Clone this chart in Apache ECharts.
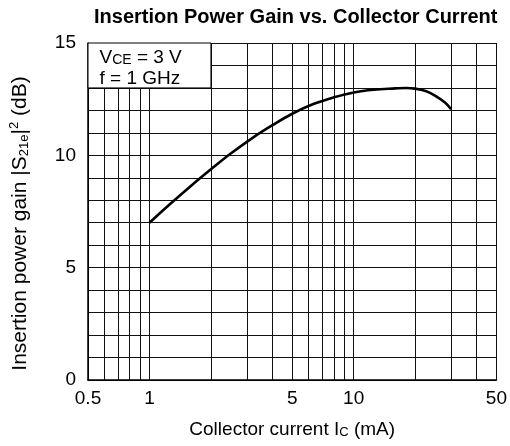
<!DOCTYPE html>
<html>
<head>
<meta charset="utf-8">
<script src="https://cdn.jsdelivr.net/npm/echarts@6/dist/echarts.min.js"></script>
<style>
  html, body { margin: 0; padding: 0; background: #fff; }
  #chart { width: 510px; height: 446px; }
</style>
</head>
<body>
<div id="chart"></div>
<script>
// collector current (mA) and insertion power gain (dB)
const currentMA = [1, 1.25, 1.6, 2, 2.5, 3.2, 4, 5, 6.3, 8, 10, 12.5, 16, 18, 20, 22.5, 25, 28, 30]
const gainDB = [7.0, 7.8, 8.65, 9.38, 10.08, 10.78, 11.34, 11.85, 12.27, 12.58, 12.8, 12.92, 12.98, 13.0, 12.97, 12.86, 12.66, 12.35, 12.05]

// log axis grid lines and labelled ticks
const xGridValues = [0.5, 0.6, 0.7, 0.8, 0.9, 1, 2, 3, 4, 5, 6, 7, 8, 9, 10, 20, 30, 40, 50]
const xTickLabels = [0.5, 1, 5, 10, 50]
const yTickLabels = [0, 5, 10, 15]

const FONT = 'Arial, "Liberation Sans", Helvetica, sans-serif'

const chart = echarts.init(document.getElementById('chart'))

chart.setOption({
  animation: false,
  title: {
    text: 'Insertion Power Gain vs. Collector Current',
    left: 89,
    top: 2,
    textStyle: { fontFamily: FONT, fontSize: 20, fontWeight: 'bold', color: '#000' }
  },
  grid: { left: 83, right: 12, top: 43, bottom: 65 },
  xAxis: {
    type: 'log',
    logBase: 10,
    min: 0.5,
    max: 50,
    name: '{a|Collector current I}{c|C}{a| (mA)}',
    nameLocation: 'middle',
    nameGap: 39,
    nameTextStyle: {
      rich: {
        a: { fontFamily: FONT, fontSize: 19, color: '#000', lineHeight: 22 },
        c: { fontFamily: FONT, fontSize: 13, color: '#000', lineHeight: 14, verticalAlign: 'bottom', padding: [0, 0, 2, 0] }
      }
    },
    axisLine: { show: true, lineStyle: { color: '#000', width: 1.5 } },
    axisTick: { show: false, customValues: xGridValues },
    axisLabel: {
      customValues: xTickLabels,
      margin: 9,
      fontFamily: FONT,
      fontSize: 19,
      color: '#000',
      formatter: v => String(v)
    },
    splitLine: { show: true, lineStyle: { color: '#111', width: 1 } }
  },
  yAxis: {
    type: 'value',
    min: 0,
    max: 15,
    interval: 1,
    name: '{a|Insertion power gain |S}{s|21e}{a||}{p|2}{a| (dB)}',
    nameLocation: 'middle',
    nameGap: 55,
    nameTextStyle: {
      padding: [0, 24, 0, 0],
      rich: {
        a: { fontFamily: FONT, fontSize: 21, color: '#000', lineHeight: 25 },
        s: { fontFamily: FONT, fontSize: 13, color: '#000', lineHeight: 14, verticalAlign: 'bottom', padding: [0, 0, 2, 0] },
        p: { fontFamily: FONT, fontSize: 13, color: '#000', lineHeight: 14, verticalAlign: 'top' }
      }
    },
    axisLine: { show: true, lineStyle: { color: '#000', width: 1.5 } },
    axisTick: { show: false },
    axisLabel: {
      margin: 12,
      fontFamily: FONT,
      fontSize: 19,
      color: '#000',
      formatter: v => (yTickLabels.indexOf(v) >= 0 ? String(v) : '')
    },
    splitLine: { show: true, lineStyle: { color: '#111', width: 1 } }
  },
  series: [
    {
      type: 'line',
      data: currentMA.map((c, i) => [c, gainDB[i]]),
      smooth: 0.4,
      symbol: 'none',
      lineStyle: { color: '#000', width: 2.6 },
      z: 5,
      markArea: {
        silent: true,
        itemStyle: { color: '#fff', borderColor: '#000', borderWidth: 1 },
        label: {
          show: true,
          position: 'insideTopLeft',
          distance: 0,
          padding: [5, 0, 0, 12],
          formatter: '{a|V}{c|CE}{a| = 3 V}\n{a|f = 1 GHz}',
          rich: {
            a: { fontFamily: FONT, fontSize: 19, color: '#000', lineHeight: 21 },
            c: { fontFamily: FONT, fontSize: 14, color: '#000', lineHeight: 15, verticalAlign: 'bottom', padding: [0, 0, 1, 0] }
          }
        },
        data: [[{ coord: [0.5, 15] }, { coord: [2, 13] }]]
      }
    }
  ]
})
</script>
</body>
</html>
